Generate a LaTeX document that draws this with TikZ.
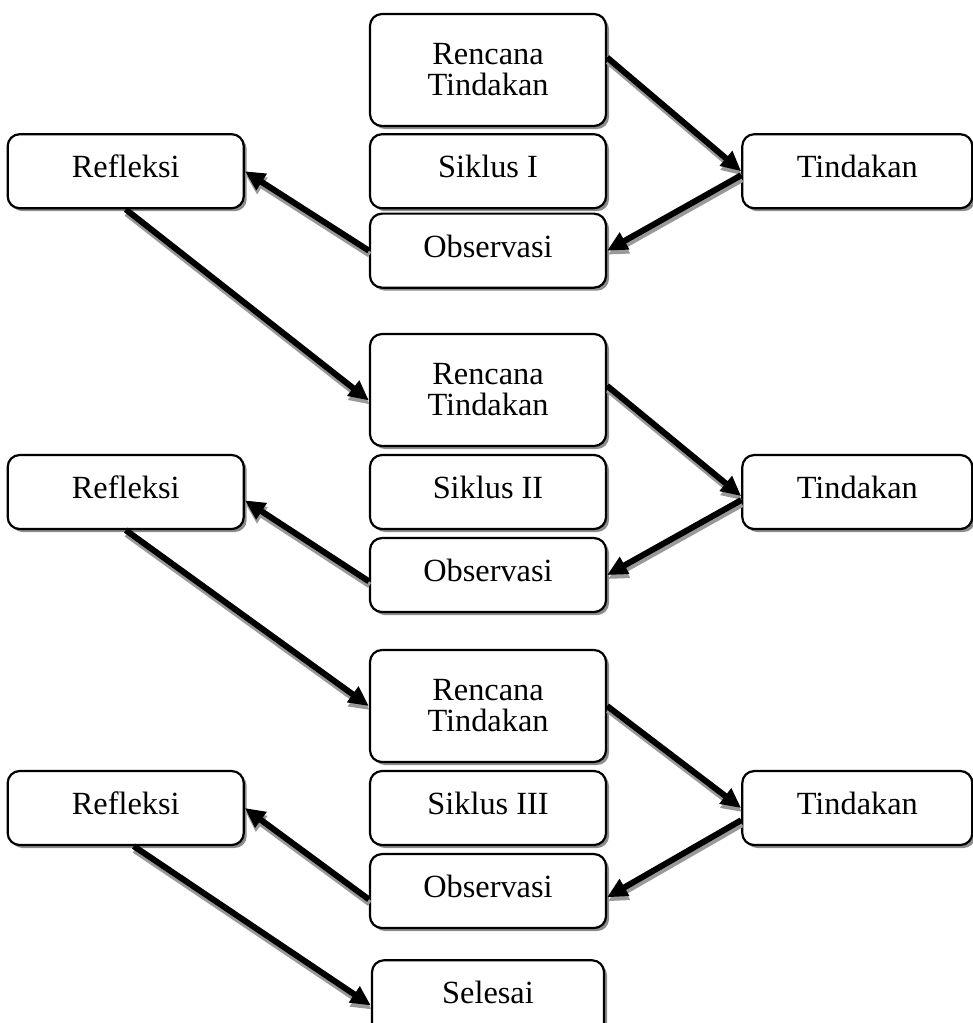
\documentclass[tikz,border=0pt]{standalone}
\usepackage{fontspec}
\setmainfont{Liberation Serif}
\usetikzlibrary{shapes,arrows.meta,positioning,shadows}
\tikzstyle{box}=[rectangle,draw,rounded corners=0.3cm,fill=white,line width=0.055cm,align=center,minimum width=5.9cm,minimum height=1.85cm,text height=0.55cm,text depth=0.22cm,font=\fontsize{23}{22}\selectfont,drop shadow={shadow xshift=0.075cm,shadow yshift=-0.075cm,fill=black!45,opacity=1}]
\tikzstyle{plan}=[box,minimum height=2.8cm,text height=,text depth=]
\tikzstyle{act}=[box,minimum width=5.75cm]
\tikzstyle{arr}=[-{Triangle[length=0.5cm,width=0.46cm]},line width=0.15cm,preaction={draw=black!40,line width=0.15cm,-{Triangle[length=0.5cm,width=0.46cm]},transform canvas={xshift=0.02cm,yshift=-0.1cm}}]

\begin{document}
\begin{tikzpicture}[x=0.025cm,y=-0.025cm,node distance=0.17cm]
\useasboundingbox (0,0) rectangle (972,1023);
% siklus I
\node[plan] (rt1) at (488,70) {Rencana\\Tindakan};
\node[box, below=0.15cm of rt1] (sik1) {Siklus I};
\node[box, below=0.08cm of sik1] (obs1) {Observasi};
\node[box, left=3.1cm of sik1] (ref1) {Refleksi};
\node[act, right=3.35cm of sik1] (tin1) {Tindakan};
% siklus II
\node[plan] (rt2) at (488,390) {Rencana\\Tindakan};
\node[box, below=of rt2] (sik2) {Siklus II};
\node[box, below=of sik2] (obs2) {Observasi};
\node[box, left=3.1cm of sik2] (ref2) {Refleksi};
\node[act, right=3.35cm of sik2] (tin2) {Tindakan};
% siklus III
\node[plan] (rt3) at (488,706) {Rencana\\Tindakan};
\node[box, below=of rt3] (sik3) {Siklus III};
\node[box, below=of sik3] (obs3) {Observasi};
\node[box, left=3.1cm of sik3] (ref3) {Refleksi};
\node[act, right=3.35cm of sik3] (tin3) {Tindakan};
\node[box, minimum width=5.8cm, below=0.75cm of obs3] (sel) {Selesai};
% alur
\draw[arr] (rt1.6) -- (tin1.west);
\draw[arr] (tin1.182) -- (obs1.east);
\draw[arr] (obs1.west) -- (ref1.east);
\draw[arr] (ref1.south) -- (rt2.185);
\draw[arr] (rt2.2) -- (tin2.182);
\draw[arr] (tin2.184) -- (obs2.east);
\draw[arr] (obs2.183) -- (ref2.-4);
\draw[arr] (ref2.south) -- (rt3.west);
\draw[arr] (rt3.east) -- (tin3.west);
\draw[arr] (tin3.186) -- (obs3.-3);
\draw[arr] (obs3.184) -- (ref3.east);
\draw[arr] ([xshift=0.2cm]ref3.south) -- (sel.184);
\end{tikzpicture}
\end{document}
